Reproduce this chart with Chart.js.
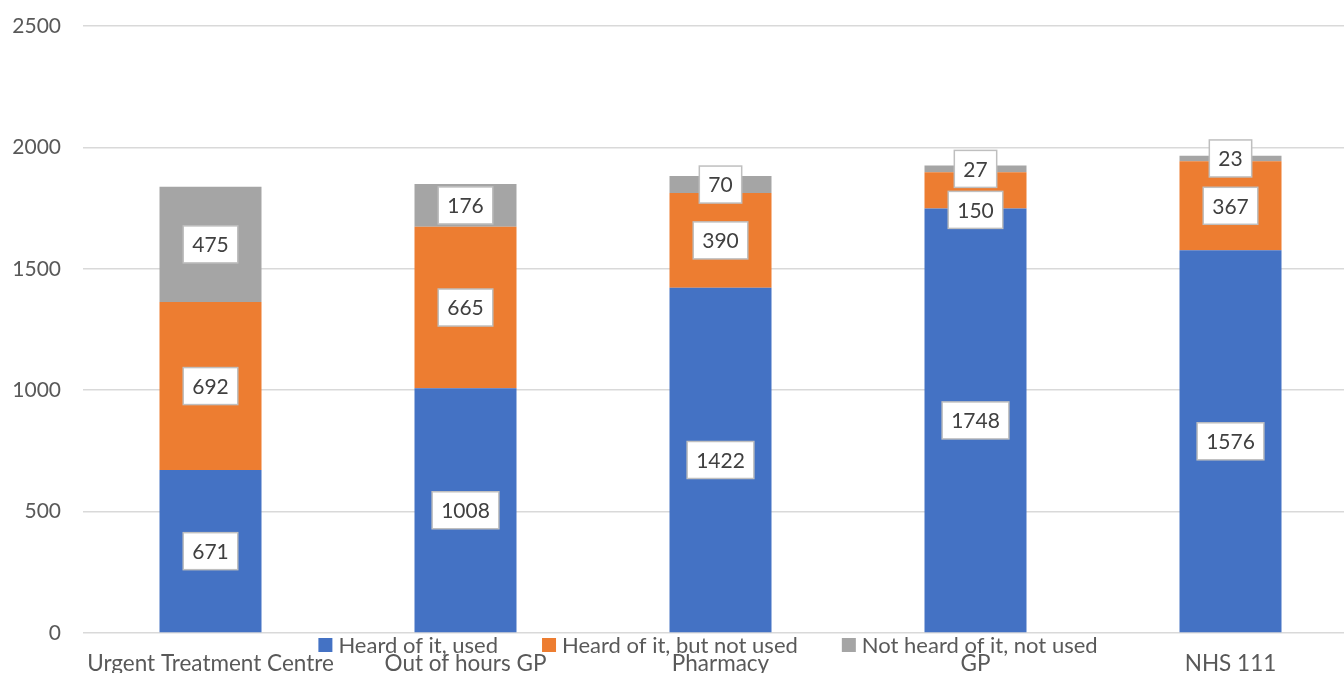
<!DOCTYPE html>
<html><head><meta charset="utf-8">
<script src="https://cdn.jsdelivr.net/npm/chart.js@4.4.0/dist/chart.umd.min.js"></script>
<style>
html,body{margin:0;padding:0;background:#fff;overflow:hidden;}
#wrap{position:relative;width:1360px;height:673px;}
</style></head><body>
<div id="wrap"><canvas id="c"></canvas></div>
<script>
const categories = ["Urgent Treatment Centre", "Out of hours GP", "Pharmacy", "GP", "NHS 111"];
const seriesNames = ["Heard of it, used", "Heard of it, but not used", "Not heard of it, not used"];
const heardUsed = [671, 1008, 1422, 1748, 1576];
const heardNotUsed = [692, 665, 390, 150, 367];
const notHeard = [475, 176, 70, 27, 23];
const yTicks = [0, 500, 1000, 1500, 2000, 2500];
const colors = ["#4472C4", "#ED7D31", "#A5A5A5"];
const FONT = "Lato, 'Open Sans', sans-serif";

const labelPlugin = {
  id: 'boxLabels',
  afterDatasetsDraw(chart) {
    const ctx = chart.ctx;
    ctx.save();
    ctx.font = "21px " + FONT;
    ctx.textAlign = 'center';
    ctx.textBaseline = 'middle';
    const n = chart.data.labels.length;
    const h = 37;
    for (let j = 0; j < n; j++) {
      let prevBottom = -Infinity;
      for (let i = chart.data.datasets.length - 1; i >= 0; i--) {
        const ds = chart.data.datasets[i];
        const el = chart.getDatasetMeta(i).data[j];
        const txt = String(ds.data[j]);
        let top = (el.y + el.base) / 2 - h / 2;
        if (top < prevBottom + 4) top = prevBottom + 4;
        const w = ctx.measureText(txt).width + 18;
        ctx.fillStyle = '#fff';
        ctx.fillRect(el.x - w/2, top, w, h);
        ctx.strokeStyle = '#bfbfbf';
        ctx.lineWidth = 1.5;
        ctx.strokeRect(el.x - w/2, top, w, h);
        ctx.fillStyle = '#404040';
        ctx.fillText(txt, el.x, top + h/2 + 1);
        prevBottom = top + h;
      }
    }
    ctx.restore();
  }
};

const legendPlugin = {
  id: 'customLegend',
  afterDraw(chart) {
    const ctx = chart.ctx;
    ctx.save();
    ctx.font = "22px " + FONT;
    ctx.textBaseline = 'middle';
    ctx.textAlign = 'left';
    const box = 14, gap = 6, itemGap = 44;
    const items = chart.data.datasets.map(d => ({t: d.label, c: d.backgroundColor, w: ctx.measureText(d.label).width}));
    let total = items.reduce((s, it) => s + box + gap + it.w, 0) + itemGap * (items.length - 1);
    let x = 708 - total / 2;
    const y = 645;
    items.forEach(it => {
      ctx.fillStyle = it.c;
      ctx.fillRect(x, y - box/2, box, box);
      x += box + gap;
      ctx.fillStyle = '#595959';
      ctx.fillText(it.t, x, y + 1);
      x += it.w + itemGap;
    });
    ctx.restore();
  }
};

new Chart(document.getElementById('c'), {
  type: 'bar',
  data: {
    labels: categories,
    datasets: [
      {label: seriesNames[0], data: heardUsed, backgroundColor: colors[0]},
      {label: seriesNames[1], data: heardNotUsed, backgroundColor: colors[1]},
      {label: seriesNames[2], data: notHeard, backgroundColor: colors[2]}
    ]
  },
  options: {
    responsive: true,
    maintainAspectRatio: false,
    animation: false,
    layout: {padding: {left: 12, top: 26, right: 2, bottom: 0}},
    datasets: {bar: {barPercentage: 0.4, categoryPercentage: 1.0}},
    plugins: {legend: {display: false}, tooltip: {enabled: false}},
    scales: {
      x: {
        stacked: true,
        grid: {display: false, drawTicks: false},
        border: {display: false},
        ticks: {color: '#595959', font: {family: FONT, size: 22.5}, padding: 17, maxRotation: 0, autoSkip: false},
        afterFit(scale) { scale.height = 40; scale.paddingLeft = 0; scale.paddingRight = 0; }
      },
      y: {
        stacked: true,
        min: 0, max: 2500,
        afterBuildTicks(axis) { axis.ticks = yTicks.map(v => ({value: v})); },
        grid: {color: '#d9d9d9', lineWidth: 1.5, drawTicks: false},
        border: {display: false},
        ticks: {color: '#595959', font: {family: FONT, size: 21}, padding: 22, callback: v => String(v)},
        afterFit(scale) { scale.width = 71; scale.paddingTop = 0; scale.paddingBottom = 0; }
      }
    }
  },
  plugins: [labelPlugin, legendPlugin]
});
</script>
</body></html>
